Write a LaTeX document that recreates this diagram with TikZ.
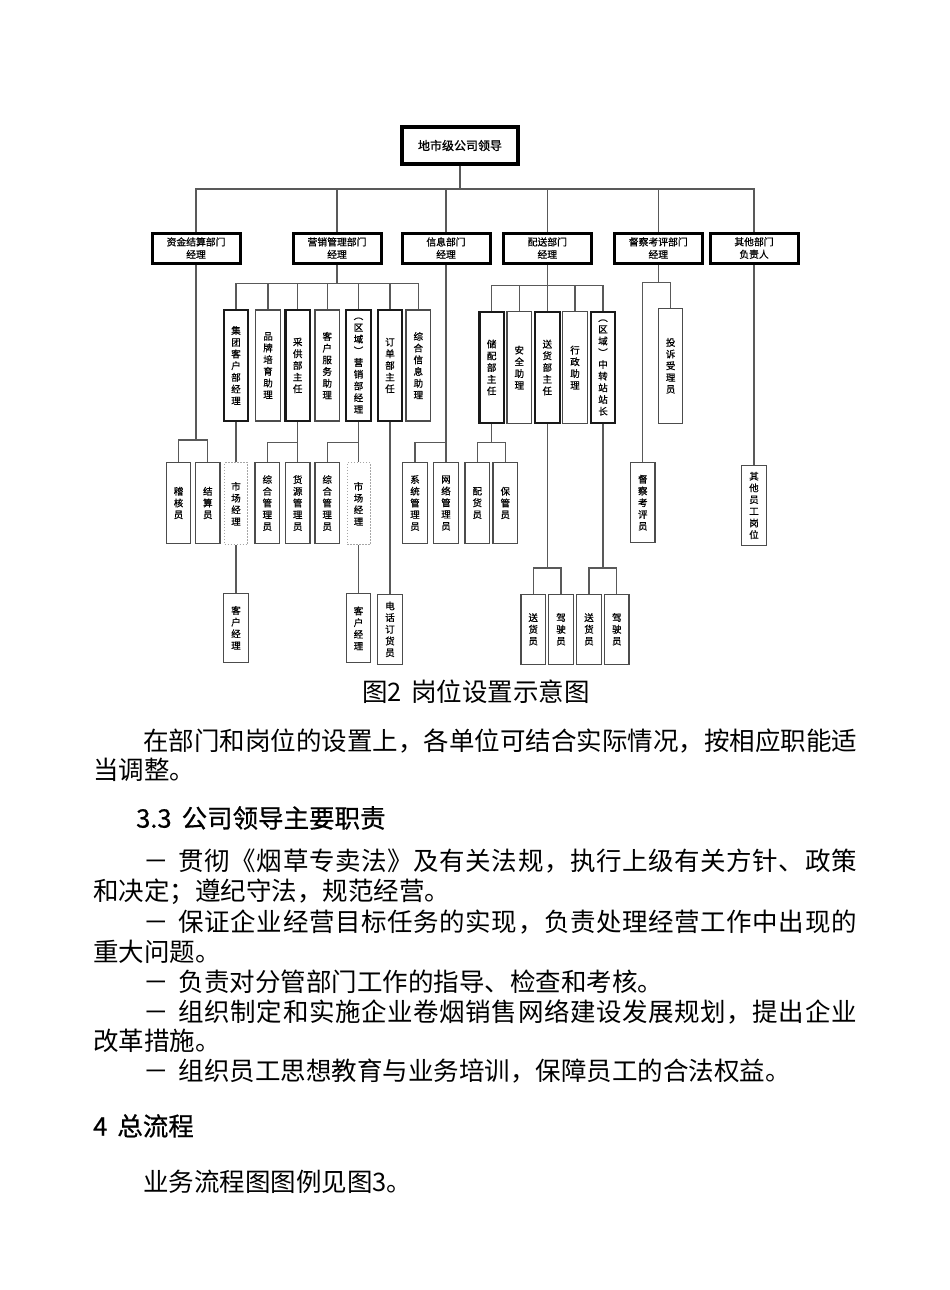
\documentclass[tikz,border=0pt]{standalone}
\usepackage{fontspec}
\setmainfont{Noto Sans CJK SC}
\newfontfamily\cjk{Noto Sans CJK SC}
\newfontfamily\cjkb[FakeBold=1.2]{Noto Sans CJK SC}
\newfontfamily\cjkm[FakeBold=0.7]{Noto Sans CJK SC}
\def\spl#1{\ifx#1\relax\else#1\hfil\expandafter\spl\fi}
\newcommand\spreadbox[2]{\hbox to #1{\spl#2\relax\unskip}}
\begin{document}
\begin{tikzpicture}[x=1pt,y=-1pt,
  conn/.style={draw=black!65, line width=1.1pt},
  topbox/.style={draw=black, line width=3.3pt, minimum width=116pt, minimum height=37pt, inner sep=0pt, font=\cjkb\fontsize{12}{14}\selectfont},
  deptbox/.style={draw=black, line width=3pt, minimum width=88pt, minimum height=30pt, inner sep=0pt, align=center, font=\cjkm\fontsize{9.8}{12.5}\selectfont},
  thinbox/.style={draw=black!70, line width=1.2pt, fill=white, inner sep=0pt, minimum width=24.5pt, align=center, font=\cjkm\fontsize{9.5}{11.7}\selectfont},
  thickbox/.style={thinbox, draw=black!90, line width=2.1pt},
  dashbox/.style={thinbox, draw=black!35, line width=0.8pt, dash pattern=on 1.5pt off 1.5pt, minimum width=23pt},
  body/.style={anchor=west, inner sep=0pt, font=\cjk\fontsize{25.5}{30}\selectfont, text height=22.4pt, text depth=3.1pt},
  head/.style={body, font=\cjkm\fontsize{25.5}{30}\selectfont}
]
\useasboundingbox (0,0) rectangle (950,1290);
\fill[white] (0,0) rectangle (950,1290);

% ---- top and departments
\node[topbox] (top) at (460,145.5) {地市级公司领导};
\node[deptbox] (d1) at (196,248) {资金结算部门\\经理};
\node[deptbox] (d2) at (337,248) {营销管理部门\\经理};
\node[deptbox] (d3) at (446,248) {信息部门\\经理};
\node[deptbox] (d4) at (547.3,248) {配送部门\\经理};
\node[deptbox] (d5) at (658.3,248) {督察考评部门\\经理};
\node[deptbox] (d6) at (754,248) {其他部门\\负责人};

% ---- marketing children
\node[thickbox, minimum height=111pt] (m1) at (236,365.5) {集\\团\\客\\户\\部\\经\\理};
\node[thinbox,  minimum height=111pt] (m2) at (268,365.5) {品\\牌\\培\\育\\助\\理};
\node[thickbox, minimum height=111pt] (m3) at (297.7,365.5) {采\\供\\部\\主\\任};
\node[thinbox,  minimum height=111pt] (m4) at (327.2,365.5) {客\\户\\服\\务\\助\\理};
\node[thickbox, minimum height=111pt] (m5) at (358.5,365.5) {︵\\区\\域\\︶\\营\\销\\部\\经\\理};
\node[thickbox, minimum height=111pt] (m6) at (390,365.5) {订\\单\\部\\主\\任};
\node[thinbox,  minimum height=111pt] (m7) at (418.3,365.5) {综\\合\\信\\息\\助\\理};

% ---- distribution children
\node[thickbox, minimum height=111.6pt] (p1) at (491.7,367.5) {储\\配\\部\\主\\任};
\node[thinbox,  minimum height=111.6pt] (p2) at (519.3,367.5) {安\\全\\助\\理};
\node[thickbox, minimum height=111.6pt] (p3) at (547.3,367.5) {送\\货\\部\\主\\任};
\node[thinbox,  minimum height=111.6pt] (p4) at (575,367.5) {行\\政\\助\\理};
\node[thickbox, minimum height=111.6pt] (p5) at (603,367.5) {︵\\区\\域\\︶\\中\\转\\站\\站\\长};

% ---- inspection / other
\node[thinbox, minimum height=115pt] (t1) at (670.6,365.8) {投\\诉\\受\\理\\员};
\node[thinbox, minimum height=80pt] (t2) at (642.8,502.7) {督\\察\\考\\评\\员};
\node[thinbox, minimum height=80pt] (o1) at (754,505.4) {其\\他\\员\\工\\岗\\位};

% ---- level 4
\node[thinbox, minimum height=80.6pt] (a1) at (178.5,503) {稽\\核\\员};
\node[thinbox, minimum height=80.6pt] (a2) at (207.8,503) {结\\算\\员};
\node[dashbox, minimum height=82pt] (s1) at (236,503.8) {市\\场\\经\\理};
\node[thinbox, minimum height=80.6pt] (c1) at (267.3,503) {综\\合\\管\\理\\员};
\node[thinbox, minimum height=80.6pt] (c2) at (297.7,503) {货\\源\\管\\理\\员};
\node[thinbox, minimum height=80.6pt] (c3) at (327.2,503) {综\\合\\管\\理\\员};
\node[dashbox, minimum height=82pt] (s2) at (358.5,503.8) {市\\场\\经\\理};
\node[thinbox, minimum height=80.6pt] (i1) at (415,503) {系\\统\\管\\理\\员};
\node[thinbox, minimum height=80.6pt] (i2) at (446,503) {网\\络\\管\\理\\员};
\node[thinbox, minimum height=80.6pt] (q1) at (477.3,503) {配\\货\\员};
\node[thinbox, minimum height=80.6pt] (q2) at (505.3,503) {保\\管\\员};

% ---- level 5
\node[thinbox, minimum height=69pt] (k1) at (236,627.8) {客\\户\\经\\理};
\node[thinbox, minimum height=69pt] (k2) at (358.5,628.3) {客\\户\\经\\理};
\node[thinbox, minimum height=70pt] (e1) at (390,629.3) {电\\话\\订\\货\\员};
\node[thinbox, minimum height=70pt] (r1) at (533.2,629.3) {送\\货\\员};
\node[thinbox, minimum height=70pt] (r2) at (561,629.3) {驾\\驶\\员};
\node[thinbox, minimum height=70pt] (r3) at (589,629.3) {送\\货\\员};
\node[thinbox, minimum height=70pt] (r4) at (616.8,629.3) {驾\\驶\\员};

% ---- bus levels
\coordinate (y0) at (0,189);
\coordinate (y1) at (0,283.5);
\coordinate (y2) at (0,285.7);
\coordinate (y3) at (0,282.7);
\coordinate (y4) at (0,440);
\coordinate (y5) at (0,442.7);
\coordinate (y6) at (0,442.3);
\coordinate (y7) at (0,568);

% ---- connectors
\draw[conn] (top.south) -- (top.south |- y0);
\draw[conn] (d1.north) |- (d6.north |- y0) -- (d6.north);
\foreach \n in {d2,d3,d4,d5} \draw[conn] (\n.north) -- (\n.north |- y0);

\draw[conn] (d2.south) -- (d2.south |- y1);
\draw[conn] (m1.north) |- (m7.north |- y1) -- (m7.north);
\foreach \n in {m2,m3,m4,m5,m6} \draw[conn] (\n.north) -- (\n.north |- y1);

\draw[conn] (d4.south) -- (d4.south |- y2);
\draw[conn] (p1.north) |- (p5.north |- y2) -- (p5.north);
\foreach \n in {p2,p3,p4} \draw[conn] (\n.north) -- (\n.north |- y2);

\draw[conn] (d5.south) -- (d5.south |- y3);
\draw[conn] (t2.north) |- (t1.north |- y3) -- (t1.north);

\draw[conn] (d6.south) -- (o1.north);

\draw[conn] (d1.south) -- (d1.south |- y4);
\draw[conn] (a1.north) |- (a2.north |- y4) -- (a2.north);

\draw[conn] (m1.south) -- (s1.north);
\draw[conn] (s1.south) -- (k1.north);

\draw[conn] (m3.south) -- (m3.south |- y5);
\draw[conn] (c1.north) |- (c2.north |- y5) -- (c2.north);

\draw[conn] (m5.south) -- (m5.south |- y5);
\draw[conn] (c3.north) |- (s2.north |- y5) -- (s2.north);
\draw[conn] (s2.south) -- (k2.north);

\draw[conn] (m6.south) -- (e1.north);

\draw[conn] (d3.south) -- (d3.south |- y5);
\draw[conn] (i1.north) |- (i2.north |- y5) -- (i2.north);

\draw[conn] (p1.south) -- (p1.south |- y6);
\draw[conn] (q1.north) |- (q2.north |- y6) -- (q2.north);

\draw[conn] (p3.south) -- (p3.south |- y7);
\draw[conn] (r1.north) |- (r2.north |- y7) -- (r2.north);

\draw[conn] (p5.south) -- (p5.south |- y7);
\draw[conn] (r3.north) |- (r4.north |- y7) -- (r4.north);

% ---- text below
\node[body, anchor=center] (cap) at (476,692) {图2\hspace{9pt}岗位设置示意图};
\node[body] (l1) at (143,741) {在部门和岗位的设置上，各单位可结合实际情况，按相应职能适};
\node[body] (l2) at (93,770) {当调整。};
\node[head] (h1) at (136,818) {3.3\hspace{10pt}公司领导主要职责};
\node[body] (b1) at (143,861) {－\hspace{10pt}\spreadbox{678pt}{贯彻《烟草专卖法》及有关法规，执行上级有关方针、政策}};
\node[body] (b1b) at (93,891) {和决定；遵纪守法，规范经营。};
\node[body] (b2) at (143,922) {－\hspace{10pt}\spreadbox{678pt}{保证企业经营目标任务的实现，负责处理经营工作中出现的}};
\node[body] (b2b) at (93,952) {重大问题。};
\node[body] (b3) at (143,982) {－\hspace{10pt}负责对分管部门工作的指导、检查和考核。};
\node[body] (b4) at (143,1012) {－\hspace{10pt}\spreadbox{678pt}{组织制定和实施企业卷烟销售网络建设发展规划，提出企业}};
\node[body] (b4b) at (93,1041) {改革措施。};
\node[body] (b5) at (143,1071) {－\hspace{10pt}组织员工思想教育与业务培训，保障员工的合法权益。};
\node[head] (h2) at (93,1126) {4\hspace{10pt}总流程};
\node[body] (f1) at (143,1182) {业务流程图图例见图3。};
\end{tikzpicture}
\end{document}
